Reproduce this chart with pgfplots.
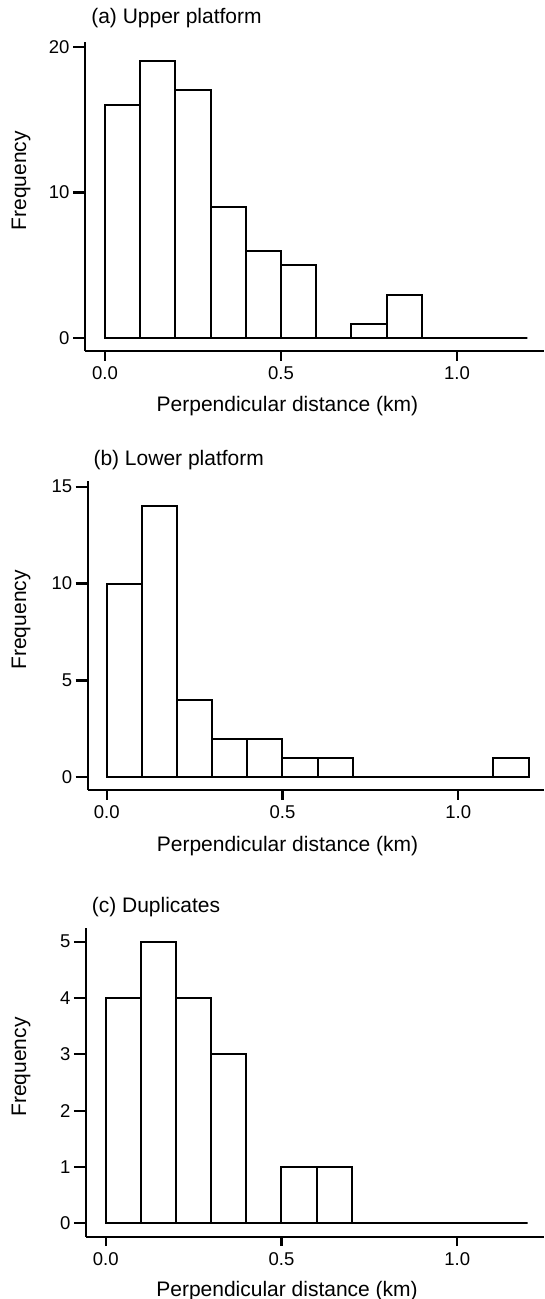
\documentclass[border=0pt]{standalone}
\usepackage{fontspec}
\setmainfont{Liberation Sans}
\usepackage{pgfplots}
\pgfplotsset{compat=1.18}

\pgfplotsset{
  histo/.style={
    scale only axis,
    axis lines*=left,
    axis line style={line width=2.2pt},
    tick align=outside,
    major tick length=12pt,
    tick style={line width=2.2pt, black},
    xtick style={/pgfplots/major tick length=9.5pt},
    xtick={0,0.5,1},
    xticklabels={0.0,0.5,1.0},
    /pgf/number format/assume math mode=true,
    tick label style={font=\fontsize{18.5}{22}\selectfont},
    label style={font=\fontsize{21}{25}\selectfont},
    title style={font=\fontsize{21}{25}\selectfont, anchor=base west},
    xlabel={Perpendicular distance (km)},
    ylabel={Frequency},
    clip=false,
  },
  bars/.style={ybar interval, draw=black, fill=white, line width=2pt},
}

\begin{document}
\begin{tikzpicture}
\useasboundingbox (0,-1299pt) rectangle (544pt,0);

% (a) upper platform
\begin{axis}[histo,
  at={(85pt,-351pt)}, anchor=south west,
  width=459pt, height=309.3pt,
  xmin=-0.0568, xmax=1.247, ymin=-0.87, ymax=20.34,
  ytick={0,10,20},
  title={(a) Upper platform},
  title style={at={(axis description cs:0.006,1.038)}},
  xlabel style={at={(axis description cs:0.441,-0.196)}, anchor=base},
  ylabel style={at={(axis description cs:-0.1285,0.55)}, anchor=base},
]
\addplot[bars] coordinates {
  (0.0,16) (0.1,19) (0.2,17) (0.3,9) (0.4,6) (0.5,5) (0.6,0)
  (0.7,1) (0.8,3) (0.9,0) (1.0,0) (1.1,0) (1.2,0)
};
\end{axis}

% (b) lower platform
\begin{axis}[histo,
  at={(87.7pt,-790pt)}, anchor=south west,
  width=456.3pt, height=309.3pt,
  xmin=-0.054, xmax=1.244, ymin=-0.656, ymax=15.31,
  ytick={0,5,10,15},
  title={(b) Lower platform},
  title style={at={(axis description cs:0.005,1.029)}},
  xlabel style={at={(axis description cs:0.438,-0.1995)}, anchor=base},
  ylabel style={at={(axis description cs:-0.135,0.55)}, anchor=base},
]
\addplot[bars] coordinates {
  (0.0,10) (0.1,14) (0.2,4) (0.3,2) (0.4,2) (0.5,1) (0.6,1)
  (0.7,0) (0.8,0) (0.9,0) (1.0,0) (1.1,1) (1.2,0)
};
\end{axis}

% (c) duplicates
\begin{axis}[histo,
  at={(86pt,-1236.7pt)}, anchor=south west,
  width=458pt, height=308.4pt,
  xmin=-0.056, xmax=1.2466, ymin=-0.238, ymax=5.238,
  ytick={0,1,2,3,4,5},
  title={(c) Duplicates},
  title style={at={(axis description cs:0.005,1.032)}},
  xlabel style={at={(axis description cs:0.439,-0.195)}, anchor=base},
  ylabel style={at={(axis description cs:-0.131,0.55)}, anchor=base},
]
\addplot[bars] coordinates {
  (0.0,4) (0.1,5) (0.2,4) (0.3,3) (0.4,0) (0.5,1) (0.6,1)
  (0.7,0) (0.8,0) (0.9,0) (1.0,0) (1.1,0) (1.2,0)
};
\end{axis}
\end{tikzpicture}
\end{document}
